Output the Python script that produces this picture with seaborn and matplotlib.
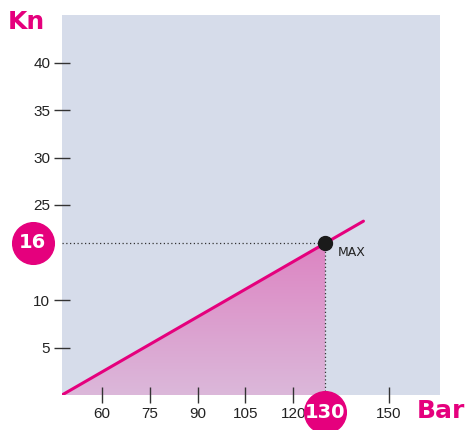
import numpy as np
import pandas as pd
import matplotlib
matplotlib.use('Agg')
import matplotlib.pyplot as plt
import matplotlib.transforms as mtransforms
from matplotlib.colors import LinearSegmentedColormap
from matplotlib import font_manager
import seaborn as sns

# Datos
linea_x = [47.5, 142]
linea_y = [0, 18.3]
max_x = 130
max_y = 16
x_ticks = [60, 75, 90, 105, 120, 150]
x_labels = ['60', '75', '90', '105', '120', '150']
y_ticks = [5, 10, 20, 25, 30, 35]
y_labels = ['5', '10', '25', '30', '35', '40']

magenta = '#e5007d'
fondo = '#d6dcea'

sns.set_style('white')
nombres = {f.name for f in font_manager.fontManager.ttflist}
fuente_ticks = 'Liberation Sans Narrow' if 'Liberation Sans Narrow' in nombres else 'Liberation Sans'
plt.rcParams['font.family'] = ['DejaVu Sans']

fig = plt.figure(figsize=(4.67, 4.30), dpi=100)
ax = fig.add_axes([62 / 467, 35 / 430, 378 / 467, 380 / 430])
ax.set_facecolor(fondo)
ax.set_axisbelow(False)
for s in ax.spines.values():
    s.set_visible(False)

# Relleno con degradado bajo la linea hasta el maximo
relleno_x = [linea_x[0], max_x]
relleno_y = [linea_y[0], max_y]
poly = ax.fill_between(relleno_x, relleno_y, 0, color='none')
cmap = LinearSegmentedColormap.from_list('rosa', ['#dbb8da', '#dd84c2'])
grad = np.linspace(0, 1, 256).reshape(-1, 1)
img = ax.imshow(grad, cmap=cmap, origin='lower', aspect='auto',
                extent=[relleno_x[0], max_x, 0, max_y], zorder=1)
path = poly.get_paths()[0]
img.set_clip_path(path, transform=ax.transData)

df = pd.DataFrame({'Bar': linea_x, 'Kn': linea_y})
sns.lineplot(data=df, x='Bar', y='Kn', color=magenta, linewidth=2.2, ax=ax, zorder=3)

# Lineas punteadas hasta el maximo
ax.plot([linea_x[0], max_x], [max_y, max_y], color='#333333', lw=0.9, ls=(0, (1, 2)), zorder=2)
ax.plot([max_x, max_x], [0, max_y], color='#333333', lw=0.9, ls=(0, (1, 2)), zorder=2)
ax.plot([max_x], [max_y], 'o', color='#1a1a1a', markersize=10, zorder=4)
ax.text(max_x + 4, max_y - 1, 'MAX', fontsize=9, color='#222222', va='center', ha='left')

ax.set_xlim(47.5, 166)
ax.set_ylim(0, 40)
ax.set_xticks(x_ticks)
ax.set_xticklabels(x_labels)
ax.set_yticks(y_ticks)
ax.set_yticklabels(y_labels)
ax.tick_params(axis='both', direction='inout', length=11, width=1, color='#333333',
               labelsize=11, labelcolor='#222222', pad=3, bottom=True, left=True)
for lab in ax.get_xticklabels() + ax.get_yticklabels():
    lab.set_family(fuente_ticks)
ax.set_xlabel('')
ax.set_ylabel('')

# Circulos con los valores del maximo
trans_y = mtransforms.blended_transform_factory(ax.transAxes, ax.transData)
trans_x = mtransforms.blended_transform_factory(ax.transData, ax.transAxes)
ax.scatter([-0.077], [max_y], s=900, color=magenta, transform=trans_y, clip_on=False, zorder=5)
ax.text(-0.077, max_y, str(max_y), transform=trans_y, color='white', fontsize=14,
        fontweight='bold', ha='center', va='center', clip_on=False, zorder=6)
ax.scatter([max_x], [-0.045], s=900, color=magenta, transform=trans_x, clip_on=False, zorder=5)
ax.text(max_x, -0.045, str(max_x), transform=trans_x, color='white', fontsize=14,
        fontweight='bold', ha='center', va='center', clip_on=False, zorder=6)

# Titulos de los ejes
fig.text(8 / 467, 1 - 22 / 430, 'Kn', color=magenta, fontsize=18, fontweight='bold',
         ha='left', va='center')
fig.text(1 - 2 / 467, 1 - 411 / 430, 'Bar', color=magenta, fontsize=18, fontweight='bold',
         ha='right', va='center')

fig.savefig('out.png', dpi=100)
